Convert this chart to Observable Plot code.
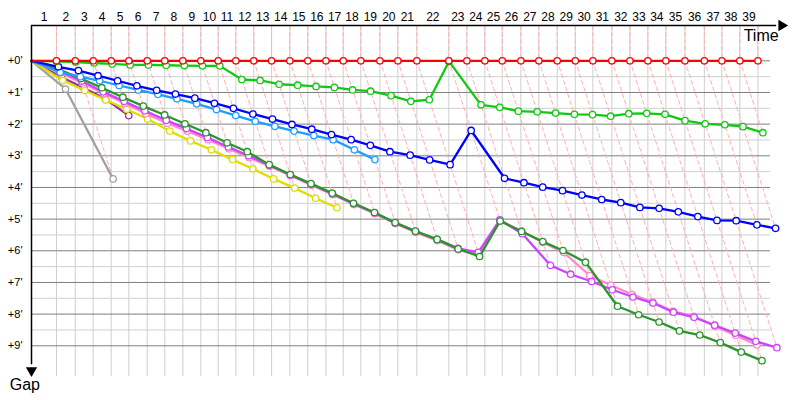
<!DOCTYPE html>
<html>
<head>
<meta charset="utf-8">
<script src="https://cdn.jsdelivr.net/npm/d3@7"></script>
<script src="https://cdn.jsdelivr.net/npm/@observablehq/plot@0.6"></script>
<style>
  html, body { margin: 0; padding: 0; background: #fff; }
  #chart svg { display: block; }
</style>
</head>
<body>
<div id="chart"></div>
<script>
// Lap numbers shown along the top
const lapLabels = ["1","2","3","4","5","6","7","8","9","10","11","12","13","14","15","16","17","18","19","20",
  "21","22","23","24","25","26","27","28","29","30","31","32","33","34","35","36","37","38","39"];

// Leader's cumulative race time at the end of each lap (minutes)
const leaderTime = [2.46, 4.31, 6.08, 7.85, 9.59, 11.40, 13.13, 14.91, 16.68, 18.39,
  20.13, 21.90, 23.65, 25.45, 27.22, 29.00, 30.71, 32.44, 34.32, 36.09,
  37.96, 41.11, 42.89, 44.66, 46.37, 48.21, 49.98, 51.79, 53.57, 55.30,
  57.17, 58.95, 60.72, 62.49, 64.37, 66.28, 68.01, 69.78, 71.56];

// Gap to the leader after each lap (minutes)
const gapsRed = leaderTime.map(() => 0);
const gapsGreen = [0.02, 0.04, 0.07, 0.10, 0.13, 0.13, 0.14, 0.15, 0.16, 0.16,
  0.59, 0.62, 0.74, 0.77, 0.81, 0.84, 0.92, 0.96, 1.10, 1.28,
  1.23, 0.02, 1.39, 1.47, 1.59, 1.61, 1.65, 1.69, 1.70, 1.75,
  1.67, 1.66, 1.69, 1.89, 1.99, 2.02, 2.08, 2.27];
const gapsBlue = [0.19, 0.31, 0.47, 0.63, 0.79, 0.93, 1.05, 1.18, 1.34, 1.50,
  1.68, 1.84, 2.01, 2.16, 2.33, 2.49, 2.67, 2.87, 2.98, 3.13,
  3.28, 2.20, 3.71, 3.85, 3.99, 4.10, 4.24, 4.38, 4.48, 4.63,
  4.66, 4.77, 4.92, 5.04, 5.05, 5.18, 5.29];
const gapsLightBlue = [0.36, 0.50, 0.63, 0.78, 0.92, 1.06, 1.20, 1.36, 1.54, 1.73,
  1.91, 2.07, 2.22, 2.36, 2.49, 2.81, 3.12];
const gapsDarkGreen = [0.28, 0.56, 0.85, 1.15, 1.43, 1.71, 1.99, 2.27, 2.59, 2.87,
  3.28, 3.59, 3.88, 4.18, 4.50, 4.79, 5.11, 5.38, 5.64, 5.94,
  6.18, 5.06, 5.39, 5.71, 5.99, 6.36, 7.75, 8.02, 8.25, 8.53,
  8.66, 8.90, 9.20, 9.47];
const gapsPink = [0.38, 0.70, 1.03, 1.34, 1.67, 1.97, 2.22, 2.49, 2.78, 3.06,
  3.33, 3.63, 3.93, 4.23, 4.54, 4.83, 5.14, 5.42, 5.68, 5.97,
  6.12, 5.05, 5.37, 5.74, 6.05, 6.78, 7.09, 7.38, 7.62, 7.91,
  8.07, 8.38, 8.67, 8.97];
const gapsMagenta = [0.33, 0.64, 0.98, 1.28, 1.58, 1.88, 2.14, 2.42, 2.72, 3.00,
  3.30, 3.60, 3.90, 4.20, 4.51, 4.80, 5.12, 5.39, 5.64, 5.92,
  6.05, 5.02, 5.46, 6.46, 6.74, 6.97, 7.23, 7.46, 7.65, 7.94,
  8.10, 8.35, 8.60, 8.86, 9.06];
const gapsYellow = [0.62, 0.94, 1.24, 1.53, 1.84, 2.22, 2.53, 2.81, 3.12, 3.41,
  3.73, 4.02, 4.34, 4.64];
const gapsPurple = [0.52, 0.86, 1.21, 1.73];
const gapsGray = [0.89, 3.73];

// Gap axis tick values and labels
const gapTicks = [0, 1, 2, 3, 4, 5, 6, 7, 8, 9];
const gapTickLabels = ["+0'", "+1'", "+2'", "+3'", "+4'", "+5'", "+6'", "+7'", "+8'", "+9'"];

// ---- build ----
const X_MAX = 72.8, Y_TOP = -1.115, Y_BOT = 9.97;
const drivers = [
  {name: "gray", gaps: gapsGray, color: "#a0a0a0"},
  {name: "purple", gaps: gapsPurple, color: "#993399"},
  {name: "yellow", gaps: gapsYellow, color: "#dede00"},
  {name: "pink", gaps: gapsPink, color: "#ff88c8"},
  {name: "magenta", gaps: gapsMagenta, color: "#cc44ff"},
  {name: "darkgreen", gaps: gapsDarkGreen, color: "#2a952a"},
  {name: "lightblue", gaps: gapsLightBlue, color: "#1e9eff"},
  {name: "blue", gaps: gapsBlue, color: "#0000ff"},
  {name: "green", gaps: gapsGreen, color: "#12c812"},
  {name: "red", gaps: gapsRed, color: "#ff0000"}
];
function pts(gaps) {
  return gaps.map((g, k) => ({x: leaderTime[k] + g, y: g}));
}
// lap lines: vertical from top to leader, then through all drivers of that lap
const dashRows = [];
leaderTime.forEach((t, k) => {
  const G = d3.max(drivers, d => d.gaps[k] ?? -1);
  dashRows.push({lap: k, x: t, y: Y_TOP}, {lap: k, x: t, y: 0}, {lap: k, x: t + G, y: G});
});
const halfLines = d3.range(0, 9.01, 0.5);
const lapMid = leaderTime.map((t, k) => ({x: ((k ? leaderTime[k - 1] : 0) + t) / 2, label: lapLabels[k]}));

const marks = [
  Plot.ruleX(leaderTime, {y1: Y_TOP, y2: Y_BOT, stroke: "#cfcfcf", strokeWidth: 1}),
  Plot.ruleY(halfLines.filter(v => v % 1 !== 0), {x1: 0, x2: X_MAX, stroke: "#cfcfcf", strokeWidth: 1}),
  Plot.ruleY(gapTicks, {x1: 0, x2: X_MAX, stroke: "#7f7f7f", strokeWidth: 1}),
  Plot.line(dashRows, {x: "x", y: "y", z: "lap", stroke: "#ffb0b0", strokeWidth: 1, strokeDasharray: "4,3"})
];
for (const d of drivers) {
  const p = pts(d.gaps);
  marks.push(Plot.line([{x: 0, y: 0}, ...p], {x: "x", y: "y", stroke: d.color, strokeWidth: 2.3, strokeLinejoin: "round"}));
  marks.push(Plot.dot(p, {x: "x", y: "y", r: 3.2, fill: "white", stroke: d.color, strokeWidth: 1.3}));
}
marks.push(
  Plot.ruleY([Y_TOP], {x1: 0, x2: 73.4, stroke: "black", strokeWidth: 1.5}),
  Plot.ruleX([0], {y1: Y_TOP, y2: 9.6, stroke: "black", strokeWidth: 1.5}),
  Plot.dot([{x: 73.9, y: Y_TOP}], {x: "x", y: "y", symbol: "triangle", rotate: 90, r: 4.2, fill: "black", stroke: null}),
  Plot.dot([{x: 0, y: 9.78}], {x: "x", y: "y", symbol: "triangle", rotate: 180, r: 4.2, fill: "black", stroke: null}),
  Plot.text(lapMid, {x: "x", y: Y_TOP, text: "label", dy: -8, fontSize: 12, fill: "black"}),
  Plot.text(gapTicks, {x: 0, y: d => d, text: (d, i) => gapTickLabels[i], dx: -9, textAnchor: "end", fontSize: 11, fill: "black"}),
  Plot.text(["Time"], {x: 73.6, y: -0.78, text: d => d, textAnchor: "end", fontSize: 16, fill: "black"}),
  Plot.text(["Gap"], {x: -0.65, y: 10.25, text: d => d, fontSize: 16, fill: "black"})
);

const chart = Plot.plot({
  width: 800, height: 400,
  marginLeft: 31, marginRight: 30, marginTop: 25, marginBottom: 24,
  style: {fontFamily: "'Liberation Sans', Arial, sans-serif", background: "white"},
  x: {domain: [0, X_MAX], axis: null},
  y: {domain: [Y_TOP, Y_BOT], reverse: true, axis: null},
  marks
});
document.getElementById("chart").appendChild(chart);
</script>
</body>
</html>
